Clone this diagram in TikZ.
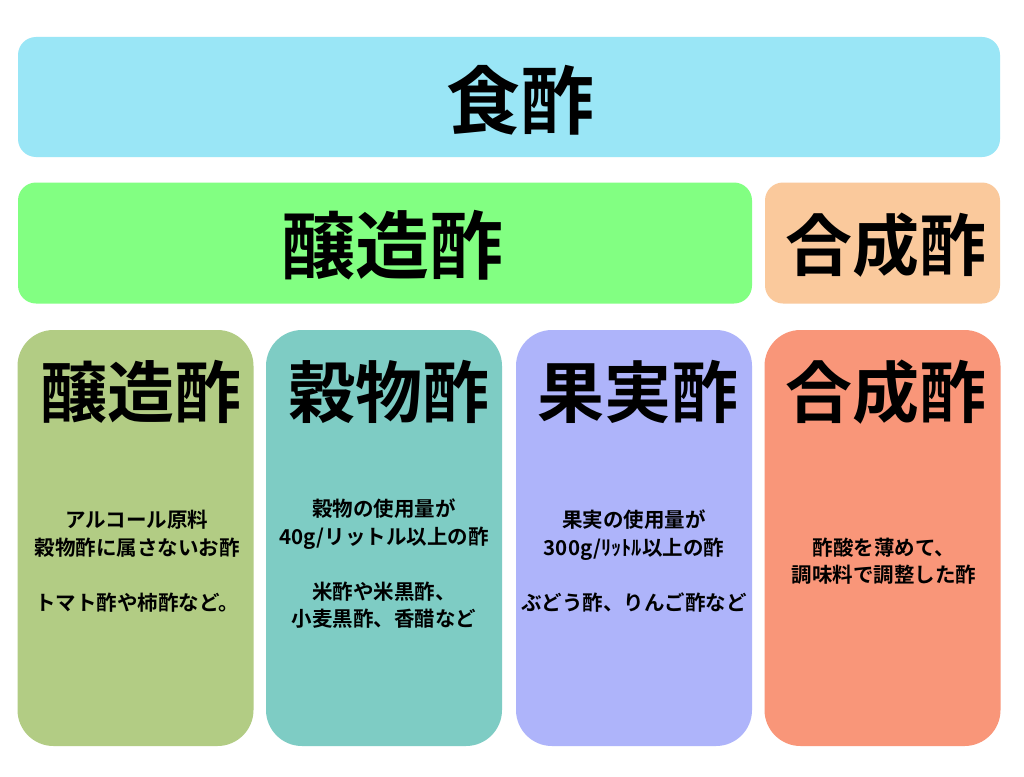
\documentclass[tikz,border=0pt]{standalone}
\usepackage{fontspec}
\setmainfont{Noto Sans CJK JP}[BoldFont={* Bold}]
\definecolor{cTop}{HTML}{9AE6F6}
\definecolor{cGreen}{HTML}{82FF82}
\definecolor{cPeach}{HTML}{FAC99C}
\definecolor{cOlive}{HTML}{B2CC84}
\definecolor{cTeal}{HTML}{7ECCC4}
\definecolor{cLav}{HTML}{AEB4FA}
\definecolor{cSalmon}{HTML}{F99679}
\tikzset{
  band/.style={draw=none, rounded corners=18pt, inner sep=0pt},
  colbox/.style={draw=none, rounded corners=36pt, inner sep=0pt, minimum width=236pt, minimum height=416pt},
  bigtitle/.style={font=\bfseries\fontsize{74}{80}\selectfont, inner sep=0pt},
  midtitle/.style={font=\bfseries\fontsize{67}{72}\selectfont, inner sep=0pt},
  body/.style={font=\bfseries\fontsize{20.5}{27.5}\selectfont, align=center, inner sep=0pt},
}
\begin{document}
\begin{tikzpicture}[x=1pt,y=-1pt]
\useasboundingbox (0,0) rectangle (1024,776);
\fill[white] (0,0) rectangle (1024,776);
% bands
\node[band, fill=cTop, minimum width=982pt, minimum height=120pt] (top) at (509,97) {};
\node[band, fill=cGreen, minimum width=734pt, minimum height=121pt] (jozo) at (385,243) {};
\node[band, fill=cPeach, minimum width=235pt, minimum height=121pt] (gosei) at (882.5,243) {};
\node[bigtitle] (topT) at (520,100) {食酢};
\node[bigtitle] (jozoT) at (392,245) {醸造酢};
\node[midtitle] (goseiT) at (886,245) {合成酢};
% columns
\node[colbox, fill=cOlive] (c1) at (135.5,538) {};
\node[colbox, fill=cTeal] (c2) at (384,538) {};
\node[colbox, fill=cLav] (c3) at (634,538) {};
\node[colbox, fill=cSalmon] (c4) at (882.5,538) {};
\node[midtitle] (h1) at (141,392) {醸造酢};
\node[midtitle] (h2) at (389,392) {穀物酢};
\node[midtitle] (h3) at (638,392) {果実酢};
\node[midtitle] (h4) at (886,392) {合成酢};
\node[body] (b1) at (137,561) {アルコール原料\\穀物酢に属さないお酢\\[27.5pt]トマト酢や柿酢など。};
\node[body] (b2) at (384,564) {穀物の使用量が\\40g/リットル以上の酢\\[27.5pt]米酢や米黒酢、\\小麦黒酢、香醋など};
\node[body] (b3) at (634,561) {果実の使用量が\\300g/ﾘｯﾄﾙ以上の酢\\[27.5pt]ぶどう酢、りんご酢など};
\node[body] (b4) at (884,561) {酢酸を薄めて、\\調味料で調整した酢};
\end{tikzpicture}
\end{document}
